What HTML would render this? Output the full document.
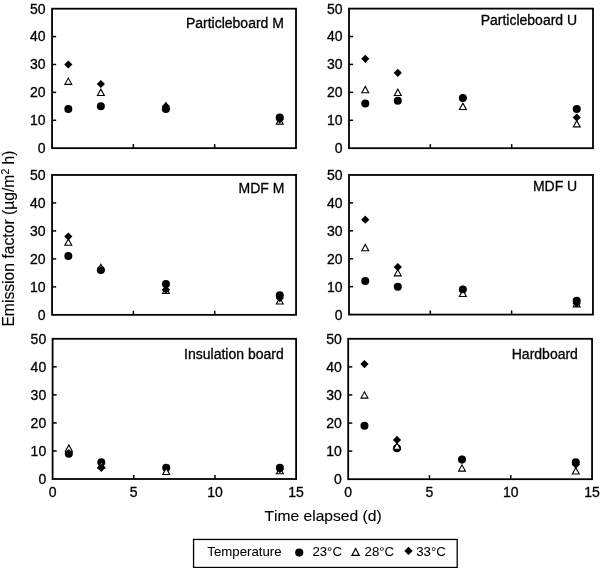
<!DOCTYPE html>
<html><head><meta charset="utf-8"><style>
html,body{margin:0;padding:0;background:#fff;}
svg{display:block;filter:grayscale(1);}
text{font-family:"Liberation Sans", sans-serif;font-size:14px;fill:#000;stroke:#000;stroke-width:0.3px;}
.lg text{font-size:12.3px;stroke-width:0.05px;}
</style></head><body>
<svg width="600" height="568" viewBox="0 0 600 568">
<rect width="600" height="568" fill="#fff"/>
<path d="M52.05 120.26H56.15" stroke="#000" stroke-width="1.5"/>
<path d="M52.05 92.37H56.15" stroke="#000" stroke-width="1.5"/>
<path d="M52.05 64.48H56.15" stroke="#000" stroke-width="1.5"/>
<path d="M52.05 36.59H56.15" stroke="#000" stroke-width="1.5"/>
<path d="M133.37 148.15V144.05" stroke="#000" stroke-width="1.5"/>
<path d="M214.68 148.15V144.05" stroke="#000" stroke-width="1.5"/>
<rect x="52.05" y="8.70" width="243.95" height="139.45" fill="none" stroke="#000" stroke-width="1.8"/>
<text x="45.65" y="153.05" text-anchor="end">0</text>
<text x="45.65" y="125.16" text-anchor="end">10</text>
<text x="45.65" y="97.27" text-anchor="end">20</text>
<text x="45.65" y="69.38" text-anchor="end">30</text>
<text x="45.65" y="41.49" text-anchor="end">40</text>
<text x="45.65" y="13.60" text-anchor="end">50</text>
<text x="185.90" y="27.50">Particleboard M</text>
<circle cx="68.31" cy="109.10" r="4.0" fill="#000"/>
<circle cx="100.84" cy="106.31" r="4.0" fill="#000"/>
<circle cx="165.89" cy="109.10" r="4.0" fill="#000"/>
<circle cx="279.74" cy="117.47" r="4.0" fill="#000"/>
<path d="M64.86 84.36H71.76L68.31 78.06Z" fill="#fff" stroke="#000" stroke-width="1.1" stroke-linejoin="miter" stroke-miterlimit="10"/>
<path d="M97.39 95.52H104.29L100.84 89.22Z" fill="#fff" stroke="#000" stroke-width="1.1" stroke-linejoin="miter" stroke-miterlimit="10"/>
<path d="M162.44 108.91H169.34L165.89 102.61Z" fill="#fff" stroke="#000" stroke-width="1.1" stroke-linejoin="miter" stroke-miterlimit="10"/>
<path d="M276.29 124.11H283.19L279.74 117.81Z" fill="#fff" stroke="#000" stroke-width="1.1" stroke-linejoin="miter" stroke-miterlimit="10"/>
<path d="M68.31 60.38L72.41 64.48L68.31 68.58L64.21 64.48Z" fill="#000"/>
<path d="M100.84 79.90L104.94 84.00L100.84 88.10L96.74 84.00Z" fill="#000"/>
<path d="M165.89 102.22L169.99 106.31L165.89 110.41L161.79 106.31Z" fill="#000"/>
<path d="M279.74 115.32L283.84 119.42L279.74 123.52L275.64 119.42Z" fill="#000"/>
<path d="M349.00 120.28H353.10" stroke="#000" stroke-width="1.5"/>
<path d="M349.00 92.36H353.10" stroke="#000" stroke-width="1.5"/>
<path d="M349.00 64.44H353.10" stroke="#000" stroke-width="1.5"/>
<path d="M349.00 36.52H353.10" stroke="#000" stroke-width="1.5"/>
<path d="M430.33 148.20V144.10" stroke="#000" stroke-width="1.5"/>
<path d="M511.67 148.20V144.10" stroke="#000" stroke-width="1.5"/>
<rect x="349.00" y="8.60" width="244.00" height="139.60" fill="none" stroke="#000" stroke-width="1.8"/>
<text x="342.60" y="153.10" text-anchor="end">0</text>
<text x="342.60" y="125.18" text-anchor="end">10</text>
<text x="342.60" y="97.26" text-anchor="end">20</text>
<text x="342.60" y="69.34" text-anchor="end">30</text>
<text x="342.60" y="41.42" text-anchor="end">40</text>
<text x="342.60" y="13.50" text-anchor="end">50</text>
<text x="480.65" y="25.00">Particleboard U</text>
<circle cx="365.27" cy="103.53" r="4.0" fill="#000"/>
<circle cx="397.80" cy="100.74" r="4.0" fill="#000"/>
<circle cx="462.87" cy="97.94" r="4.0" fill="#000"/>
<circle cx="576.73" cy="109.11" r="4.0" fill="#000"/>
<path d="M361.82 92.72H368.72L365.27 86.42Z" fill="#fff" stroke="#000" stroke-width="1.1" stroke-linejoin="miter" stroke-miterlimit="10"/>
<path d="M394.35 95.51H401.25L397.80 89.21Z" fill="#fff" stroke="#000" stroke-width="1.1" stroke-linejoin="miter" stroke-miterlimit="10"/>
<path d="M459.42 109.47H466.32L462.87 103.17Z" fill="#fff" stroke="#000" stroke-width="1.1" stroke-linejoin="miter" stroke-miterlimit="10"/>
<path d="M573.28 126.92H580.18L576.73 120.62Z" fill="#fff" stroke="#000" stroke-width="1.1" stroke-linejoin="miter" stroke-miterlimit="10"/>
<path d="M365.27 54.76L369.37 58.86L365.27 62.96L361.17 58.86Z" fill="#000"/>
<path d="M397.80 68.72L401.90 72.82L397.80 76.92L393.70 72.82Z" fill="#000"/>
<path d="M462.87 93.84L466.97 97.94L462.87 102.04L458.77 97.94Z" fill="#000"/>
<path d="M576.73 113.39L580.83 117.49L576.73 121.59L572.63 117.49Z" fill="#000"/>
<path d="M52.05 286.87H56.15" stroke="#000" stroke-width="1.5"/>
<path d="M52.05 258.89H56.15" stroke="#000" stroke-width="1.5"/>
<path d="M52.05 230.91H56.15" stroke="#000" stroke-width="1.5"/>
<path d="M52.05 202.93H56.15" stroke="#000" stroke-width="1.5"/>
<path d="M133.38 314.85V310.75" stroke="#000" stroke-width="1.5"/>
<path d="M214.72 314.85V310.75" stroke="#000" stroke-width="1.5"/>
<rect x="52.05" y="174.95" width="244.00" height="139.90" fill="none" stroke="#000" stroke-width="1.8"/>
<text x="45.65" y="319.75" text-anchor="end">0</text>
<text x="45.65" y="291.77" text-anchor="end">10</text>
<text x="45.65" y="263.79" text-anchor="end">20</text>
<text x="45.65" y="235.81" text-anchor="end">30</text>
<text x="45.65" y="207.83" text-anchor="end">40</text>
<text x="45.65" y="179.85" text-anchor="end">50</text>
<text x="238.60" y="192.50">MDF M</text>
<circle cx="68.32" cy="256.09" r="4.0" fill="#000"/>
<circle cx="100.85" cy="270.08" r="4.0" fill="#000"/>
<circle cx="165.92" cy="284.07" r="4.0" fill="#000"/>
<circle cx="279.78" cy="295.26" r="4.0" fill="#000"/>
<path d="M64.87 245.25H71.77L68.32 238.95Z" fill="#fff" stroke="#000" stroke-width="1.1" stroke-linejoin="miter" stroke-miterlimit="10"/>
<path d="M97.40 270.43H104.30L100.85 264.13Z" fill="#fff" stroke="#000" stroke-width="1.1" stroke-linejoin="miter" stroke-miterlimit="10"/>
<path d="M162.47 293.52H169.37L165.92 287.22Z" fill="#fff" stroke="#000" stroke-width="1.1" stroke-linejoin="miter" stroke-miterlimit="10"/>
<path d="M276.33 304.01H283.23L279.78 297.71Z" fill="#fff" stroke="#000" stroke-width="1.1" stroke-linejoin="miter" stroke-miterlimit="10"/>
<path d="M68.32 232.41L72.42 236.51L68.32 240.61L64.22 236.51Z" fill="#000"/>
<path d="M100.85 265.98L104.95 270.08L100.85 274.18L96.75 270.08Z" fill="#000"/>
<path d="M165.92 285.57L170.02 289.67L165.92 293.77L161.82 289.67Z" fill="#000"/>
<path d="M279.78 293.96L283.88 298.06L279.78 302.16L275.68 298.06Z" fill="#000"/>
<path d="M349.00 286.67H353.10" stroke="#000" stroke-width="1.5"/>
<path d="M349.00 258.74H353.10" stroke="#000" stroke-width="1.5"/>
<path d="M349.00 230.81H353.10" stroke="#000" stroke-width="1.5"/>
<path d="M349.00 202.88H353.10" stroke="#000" stroke-width="1.5"/>
<path d="M430.32 314.60V310.50" stroke="#000" stroke-width="1.5"/>
<path d="M511.63 314.60V310.50" stroke="#000" stroke-width="1.5"/>
<rect x="349.00" y="174.95" width="243.95" height="139.65" fill="none" stroke="#000" stroke-width="1.8"/>
<text x="342.60" y="319.50" text-anchor="end">0</text>
<text x="342.60" y="291.57" text-anchor="end">10</text>
<text x="342.60" y="263.64" text-anchor="end">20</text>
<text x="342.60" y="235.71" text-anchor="end">30</text>
<text x="342.60" y="207.78" text-anchor="end">40</text>
<text x="342.60" y="179.85" text-anchor="end">50</text>
<text x="532.90" y="191.00">MDF U</text>
<circle cx="365.26" cy="281.08" r="4.0" fill="#000"/>
<circle cx="397.79" cy="286.67" r="4.0" fill="#000"/>
<circle cx="462.84" cy="289.46" r="4.0" fill="#000"/>
<circle cx="576.69" cy="300.63" r="4.0" fill="#000"/>
<path d="M361.81 250.72H368.71L365.26 244.42Z" fill="#fff" stroke="#000" stroke-width="1.1" stroke-linejoin="miter" stroke-miterlimit="10"/>
<path d="M394.34 275.86H401.24L397.79 269.56Z" fill="#fff" stroke="#000" stroke-width="1.1" stroke-linejoin="miter" stroke-miterlimit="10"/>
<path d="M459.39 296.52H466.29L462.84 290.22Z" fill="#fff" stroke="#000" stroke-width="1.1" stroke-linejoin="miter" stroke-miterlimit="10"/>
<path d="M573.24 306.86H580.14L576.69 300.56Z" fill="#fff" stroke="#000" stroke-width="1.1" stroke-linejoin="miter" stroke-miterlimit="10"/>
<path d="M365.26 215.54L369.36 219.64L365.26 223.74L361.16 219.64Z" fill="#000"/>
<path d="M397.79 263.02L401.89 267.12L397.79 271.22L393.69 267.12Z" fill="#000"/>
<path d="M462.84 285.36L466.94 289.46L462.84 293.56L458.74 289.46Z" fill="#000"/>
<path d="M576.69 299.33L580.79 303.43L576.69 307.53L572.59 303.43Z" fill="#000"/>
<path d="M52.60 450.96H56.70" stroke="#000" stroke-width="1.5"/>
<path d="M52.60 422.92H56.70" stroke="#000" stroke-width="1.5"/>
<path d="M52.60 394.88H56.70" stroke="#000" stroke-width="1.5"/>
<path d="M52.60 366.84H56.70" stroke="#000" stroke-width="1.5"/>
<path d="M133.77 479.00V474.90" stroke="#000" stroke-width="1.5"/>
<path d="M214.93 479.00V474.90" stroke="#000" stroke-width="1.5"/>
<rect x="52.60" y="338.80" width="243.50" height="140.20" fill="none" stroke="#000" stroke-width="1.8"/>
<text x="46.20" y="483.90" text-anchor="end">0</text>
<text x="46.20" y="455.86" text-anchor="end">10</text>
<text x="46.20" y="427.82" text-anchor="end">20</text>
<text x="46.20" y="399.78" text-anchor="end">30</text>
<text x="46.20" y="371.74" text-anchor="end">40</text>
<text x="46.20" y="343.70" text-anchor="end">50</text>
<text x="52.60" y="496.80" text-anchor="middle">0</text>
<text x="133.77" y="496.80" text-anchor="middle">5</text>
<text x="214.93" y="496.80" text-anchor="middle">10</text>
<text x="296.10" y="496.80" text-anchor="middle">15</text>
<text x="184.10" y="359.00">Insulation board</text>
<circle cx="68.83" cy="453.76" r="4.0" fill="#000"/>
<circle cx="101.30" cy="462.18" r="4.0" fill="#000"/>
<circle cx="166.23" cy="467.78" r="4.0" fill="#000"/>
<circle cx="279.87" cy="467.78" r="4.0" fill="#000"/>
<path d="M65.38 451.31H72.28L68.83 445.01Z" fill="#fff" stroke="#000" stroke-width="1.1" stroke-linejoin="miter" stroke-miterlimit="10"/>
<path d="M97.85 468.13H104.75L101.30 461.83Z" fill="#fff" stroke="#000" stroke-width="1.1" stroke-linejoin="miter" stroke-miterlimit="10"/>
<path d="M162.78 474.44H169.68L166.23 468.14Z" fill="#fff" stroke="#000" stroke-width="1.1" stroke-linejoin="miter" stroke-miterlimit="10"/>
<path d="M276.42 473.74H283.32L279.87 467.44Z" fill="#fff" stroke="#000" stroke-width="1.1" stroke-linejoin="miter" stroke-miterlimit="10"/>
<path d="M68.83 449.10L72.93 453.20L68.83 457.30L64.73 453.20Z" fill="#000"/>
<path d="M101.30 463.68L105.40 467.78L101.30 471.88L97.20 467.78Z" fill="#000"/>
<path d="M279.87 465.09L283.97 469.19L279.87 473.29L275.77 469.19Z" fill="#000"/>
<path d="M348.20 451.12H352.30" stroke="#000" stroke-width="1.5"/>
<path d="M348.20 423.04H352.30" stroke="#000" stroke-width="1.5"/>
<path d="M348.20 394.96H352.30" stroke="#000" stroke-width="1.5"/>
<path d="M348.20 366.88H352.30" stroke="#000" stroke-width="1.5"/>
<path d="M429.48 479.20V475.10" stroke="#000" stroke-width="1.5"/>
<path d="M510.77 479.20V475.10" stroke="#000" stroke-width="1.5"/>
<rect x="348.20" y="338.80" width="243.85" height="140.40" fill="none" stroke="#000" stroke-width="1.8"/>
<text x="341.80" y="484.10" text-anchor="end">0</text>
<text x="341.80" y="456.02" text-anchor="end">10</text>
<text x="341.80" y="427.94" text-anchor="end">20</text>
<text x="341.80" y="399.86" text-anchor="end">30</text>
<text x="341.80" y="371.78" text-anchor="end">40</text>
<text x="341.80" y="343.70" text-anchor="end">50</text>
<text x="348.20" y="497.00" text-anchor="middle">0</text>
<text x="429.48" y="497.00" text-anchor="middle">5</text>
<text x="510.77" y="497.00" text-anchor="middle">10</text>
<text x="592.05" y="497.00" text-anchor="middle">15</text>
<text x="511.75" y="358.75">Hardboard</text>
<circle cx="364.46" cy="425.85" r="4.0" fill="#000"/>
<circle cx="396.97" cy="448.31" r="4.0" fill="#000"/>
<circle cx="462.00" cy="459.54" r="4.0" fill="#000"/>
<circle cx="575.79" cy="462.35" r="4.0" fill="#000"/>
<path d="M361.01 398.11H367.91L364.46 391.81Z" fill="#fff" stroke="#000" stroke-width="1.1" stroke-linejoin="miter" stroke-miterlimit="10"/>
<path d="M393.52 449.22H400.42L396.97 442.92Z" fill="#fff" stroke="#000" stroke-width="1.1" stroke-linejoin="miter" stroke-miterlimit="10"/>
<path d="M458.55 471.12H465.45L462.00 464.82Z" fill="#fff" stroke="#000" stroke-width="1.1" stroke-linejoin="miter" stroke-miterlimit="10"/>
<path d="M572.34 473.93H579.24L575.79 467.63Z" fill="#fff" stroke="#000" stroke-width="1.1" stroke-linejoin="miter" stroke-miterlimit="10"/>
<path d="M364.46 359.97L368.56 364.07L364.46 368.17L360.36 364.07Z" fill="#000"/>
<path d="M396.97 435.79L401.07 439.89L396.97 443.99L392.87 439.89Z" fill="#000"/>
<path d="M462.00 455.44L466.10 459.54L462.00 463.64L457.90 459.54Z" fill="#000"/>
<path d="M575.79 460.50L579.89 464.60L575.79 468.70L571.69 464.60Z" fill="#000"/>

<text transform="translate(264.4 521.1) scale(1.03 1)" style="font-size:15.2px;font-kerning:none;stroke-width:0.12px">Time elapsed (d)</text>
<text transform="translate(13.7 326.6) rotate(-90)" x="0" y="0" style="font-size:15.7px;stroke-width:0.12px">Emission factor (µg/m<tspan style="font-size:10.3px" dy="-4.6">2</tspan><tspan dy="4.6"> h)</tspan></text>


<rect x="193.55" y="539.45" width="263.65" height="28.0" fill="none" stroke="#000" stroke-width="1.3"/>
<g class="lg">
<text transform="translate(207.3 555.6) scale(1.077 1)">Temperature</text>
<circle cx="299.25" cy="552.60" r="4.1" fill="#000"/>
<text transform="translate(312.4 555.6) scale(1.077 1)">23°C</text>
<path d="M352.00 555.30H359.20L355.60 548.50Z" fill="#fff" stroke="#000" stroke-width="1.25" stroke-linejoin="miter" stroke-miterlimit="10"/>
<text transform="translate(364.6 555.6) scale(1.077 1)">28°C</text>
<path d="M408.50 546.70L412.70 550.90L408.50 555.10L404.30 550.90Z" fill="#000"/>
<text transform="translate(416.2 555.6) scale(1.077 1)">33°C</text>
</g>

</svg>
</body></html>
